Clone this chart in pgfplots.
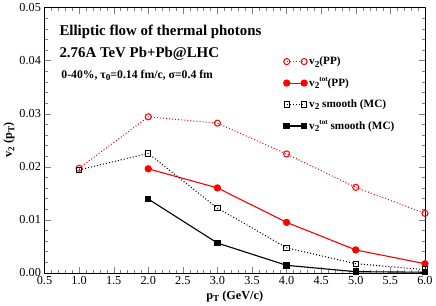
\documentclass[border=0pt]{standalone}
\usepackage{fontspec}
\setmainfont{Liberation Serif}
\usepackage{pgfplots}
\pgfplotsset{compat=1.18}
\newcommand{\sub}[1]{\raisebox{-0.45ex}{\fontsize{9}{10}\selectfont #1}}
\newcommand{\tot}{\raisebox{0.9ex}{\fontsize{7}{8}\selectfont tot}}
\begin{document}
\begin{tikzpicture}
\begin{axis}[
  scale only axis, width=373pt, height=260pt,
  xmin=0.5, xmax=6.0, ymin=0, ymax=0.05,
  xtick={0.5,1.0,...,6.0}, ytick={0,0.01,...,0.05},
  minor x tick num=4, minor y tick num=4,
  tick align=inside, major tick length=6pt, minor tick length=3pt,
  xticklabel style={/pgf/number format/.cd,fixed,fixed zerofill,precision=1},
  yticklabel style={/pgf/number format/.cd,fixed,fixed zerofill,precision=2},
  scaled y ticks=false,
  /pgf/number format/assume math mode=true,
  ticklabel style={font=\fontsize{12}{14}\selectfont},
  xlabel={\textbf{p\sub{T} (GeV/c)}},
  ylabel={\textbf{v\sub{2} (p\sub{T})}},
  label style={font=\bfseries\fontsize{12}{14}\selectfont},
  xlabel style={yshift=1pt},
  ylabel style={yshift=-2pt},
  legend style={draw=none, fill=none, at={(rel axis cs:0.62,0.83)}, anchor=north west,
     font=\bfseries\fontsize{11}{13}\selectfont, row sep=7.5pt},
  legend cell align=left,
  legend image code/.code={\draw[#1] plot coordinates {(0cm,0cm) (0.6cm,0cm)};},
]
\addplot[red, dotted, line width=1pt, mark=o, mark size=3pt, mark options={solid, fill=white, line width=1pt}]
  coordinates {(1,0.0197) (2,0.0294) (3,0.0282) (4,0.0224) (5,0.0161) (6,0.0112)};
\addlegendentry{v\sub{2}(PP)}
\addplot[red, solid, line width=1.1pt, mark=*, mark size=3pt, mark options={solid, fill=red}]
  coordinates {(2,0.0196) (3,0.0160) (4,0.0095) (5,0.0043) (6,0.0017)};
\addlegendentry{v\sub{2}\tot(PP)}
\addplot[black, dotted, line width=1pt, mark=square, mark size=2.6pt, mark options={solid, fill=white, line width=1pt}]
  coordinates {(1,0.0194) (2,0.0225) (3,0.0122) (4,0.0047) (5,0.0017) (6,0.0006)};
\addlegendentry{v\sub{2} smooth (MC)}
\addplot[black, solid, line width=1.1pt, mark=square*, mark size=2.6pt, mark options={solid, fill=black}]
  coordinates {(2,0.0139) (3,0.0056) (4,0.0014) (5,0.0002) (6,0.0001)};
\addlegendentry{v\sub{2}\tot{} smooth (MC)}
\node[anchor=west, font=\bfseries\fontsize{14.6}{16}\selectfont] at (rel axis cs:0.03,0.91) {Elliptic flow of thermal photons};
\node[anchor=west, font=\bfseries\fontsize{14.6}{16}\selectfont] at (rel axis cs:0.03,0.825) {2.76A TeV Pb+Pb@LHC};
\node[anchor=west, font=\bfseries\fontsize{11.5}{13}\selectfont] at (rel axis cs:0.035,0.745) {0-40\%, τ\sub{0}=0.14 fm/c, σ=0.4 fm};
\end{axis}
\end{tikzpicture}
\end{document}
